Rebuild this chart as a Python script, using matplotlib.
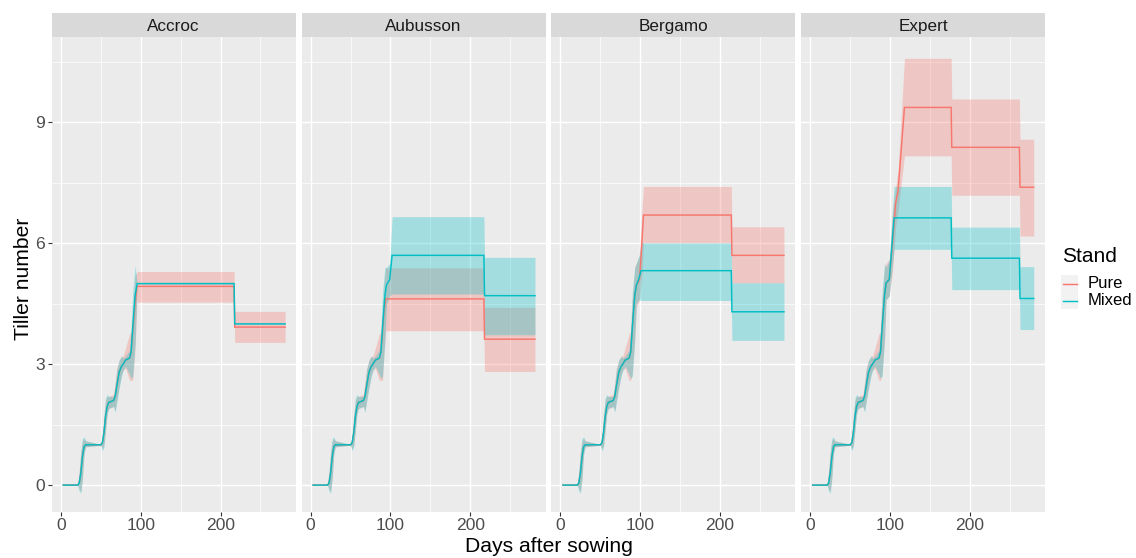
import matplotlib
matplotlib.use("Agg")
import matplotlib.pyplot as plt
from matplotlib.patches import Rectangle
from matplotlib.lines import Line2D
import numpy as np

plt.rcParams['font.family'] = ['Liberation Sans', 'DejaVu Sans']

# ---------------- data ----------------
cultivars = ["Accroc", "Aubusson", "Bergamo", "Expert"]
stands = ["Pure", "Mixed"]
colors = {"Pure": "#F8766D", "Mixed": "#00BFC4"}

# shared early phase (days after sowing)
early_days = [3, 21, 23, 25, 27, 29, 31, 50, 52, 54, 56, 58, 60, 66, 68, 70, 73, 76, 78, 81, 86, 88]
early_tiller = [0, 0, 0.05, 0.3, 0.7, 0.95, 1.0, 1.0, 1.05, 1.3, 1.7, 1.95, 2.05, 2.1, 2.2, 2.45, 2.8, 2.95, 3.0, 3.1, 3.15, 3.3]
early_mixed_low = [0, 0, -0.15, -0.2, 0.15, 0.75, 0.95, 0.99, 0.85, 0.95, 1.35, 1.75, 1.9, 1.95, 1.8, 2.05, 2.4, 2.7, 2.85, 2.95, 2.75, 2.65]
early_mixed_high = [0, 0.02, 0.35, 0.85, 1.15, 1.2, 1.1, 1.01, 1.25, 1.75, 2.15, 2.25, 2.2, 2.2, 2.5, 2.85, 3.1, 3.2, 3.15, 3.2, 3.35, 3.9]
early_pure_low = [0, 0, -0.1, -0.15, 0.2, 0.8, 0.95, 0.99, 0.9, 1.0, 1.4, 1.8, 1.9, 1.95, 1.85, 2.1, 2.45, 2.75, 2.85, 2.9, 2.6, 2.6]
early_pure_high = [0, 0.02, 0.3, 0.8, 1.1, 1.15, 1.1, 1.01, 1.2, 1.7, 2.1, 2.2, 2.2, 2.25, 2.55, 2.9, 3.1, 3.2, 3.2, 3.4, 3.75, 3.8]

# transition (rise) points after the early phase
accroc_pure_rise_days = [90, 93]
accroc_pure_rise_tiller = [3.8, 4.5]
accroc_pure_rise_low = [2.6, 3.4]
accroc_pure_rise_high = [4.3, 5.2]
accroc_mixed_rise_days = [90, 93]
accroc_mixed_rise_tiller = [3.9, 4.7]
accroc_mixed_rise_low = [2.7, 3.5]
accroc_mixed_rise_high = [4.8, 5.45]

aubusson_pure_rise_days = [90, 92]
aubusson_pure_rise_tiller = [3.8, 4.3]
aubusson_pure_rise_low = [2.6, 3.3]
aubusson_pure_rise_high = [4.3, 5.0]
aubusson_mixed_rise_days = [90, 93, 95, 99]
aubusson_mixed_rise_tiller = [3.9, 4.7, 4.97, 5.1]
aubusson_mixed_rise_low = [2.7, 3.6, 4.5, 4.7]
aubusson_mixed_rise_high = [4.8, 5.4, 5.4, 5.5]

bergamo_pure_rise_days = [90, 93, 95, 99, 102]
bergamo_pure_rise_tiller = [3.9, 4.7, 4.95, 5.1, 6.0]
bergamo_pure_rise_low = [2.8, 3.6, 4.4, 4.6, 5.2]
bergamo_pure_rise_high = [4.6, 5.4, 5.5, 5.7, 6.8]
bergamo_mixed_rise_days = [90, 93, 95, 98.5]
bergamo_mixed_rise_tiller = [3.9, 4.7, 4.95, 5.14]
bergamo_mixed_rise_low = [2.7, 3.6, 4.5, 4.6]
bergamo_mixed_rise_high = [4.8, 5.4, 5.5, 5.7]

expert_pure_rise_days = [90, 93, 95, 99, 103, 107, 110]
expert_pure_rise_tiller = [3.9, 4.7, 5.0, 5.1, 6.0, 7.0, 7.3]
expert_pure_rise_low = [2.8, 3.6, 4.6, 4.7, 5.3, 6.4, 6.8]
expert_pure_rise_high = [4.6, 5.4, 5.5, 5.6, 6.8, 7.4, 7.8]
expert_mixed_rise_days = [90, 93, 95, 99]
expert_mixed_rise_tiller = [3.9, 4.7, 5.02, 5.1]
expert_mixed_rise_low = [2.7, 3.6, 4.6, 4.7]
expert_mixed_rise_high = [4.8, 5.5, 5.4, 5.6]

# plateau phases: period breaks (days), level, ribbon low/high
accroc_pure_breaks = [95.5, 217, 281]
accroc_pure_level = [4.93, 3.92]
accroc_pure_low = [4.54, 3.54]
accroc_pure_high = [5.30, 4.31]
accroc_mixed_breaks = [95.5, 217, 281]
accroc_mixed_level = [5.0, 4.0]
accroc_mixed_low = [4.99, 3.99]
accroc_mixed_high = [5.01, 4.01]

aubusson_pure_breaks = [94, 217, 281]
aubusson_pure_level = [4.62, 3.62]
aubusson_pure_low = [3.83, 2.82]
aubusson_pure_high = [5.39, 4.41]
aubusson_mixed_breaks = [102, 217, 281]
aubusson_mixed_level = [5.70, 4.70]
aubusson_mixed_low = [4.74, 3.73]
aubusson_mixed_high = [6.66, 5.65]

bergamo_pure_breaks = [104, 214, 280]
bergamo_pure_level = [6.70, 5.70]
bergamo_pure_low = [6.01, 5.02]
bergamo_pure_high = [7.41, 6.41]
bergamo_mixed_breaks = [101, 214, 280]
bergamo_mixed_level = [5.32, 4.30]
bergamo_mixed_low = [4.58, 3.59]
bergamo_mixed_high = [6.01, 5.02]

expert_pure_breaks = [118, 176.5, 262, 280]
expert_pure_level = [9.37, 8.38, 7.39]
expert_pure_low = [8.17, 7.19, 6.18]
expert_pure_high = [10.59, 9.58, 8.58]
expert_mixed_breaks = [105, 176.5, 262, 280]
expert_mixed_level = [6.63, 5.63, 4.63]
expert_mixed_low = [5.85, 4.85, 3.86]
expert_mixed_high = [7.41, 6.40, 5.42]

x_ticks = [0, 100, 200]
y_ticks = [0, 3, 6, 9]

g = globals()


def build(cult, stand):
    key = f"{cult.lower()}_{stand.lower()}"
    el = early_pure_low if stand == "Pure" else early_mixed_low
    eh = early_pure_high if stand == "Pure" else early_mixed_high
    d = list(early_days) + g[key + "_rise_days"]
    t = list(early_tiller) + g[key + "_rise_tiller"]
    lo = list(el) + g[key + "_rise_low"]
    hi = list(eh) + g[key + "_rise_high"]
    br = g[key + "_breaks"]
    lev = g[key + "_level"]
    plo = g[key + "_low"]
    phi = g[key + "_high"]
    for i in range(len(lev)):
        s = br[i] + (0.8 if i > 0 else 0)
        e = br[i + 1]
        d += [s, e]
        t += [lev[i], lev[i]]
        lo += [plo[i], plo[i]]
        hi += [phi[i], phi[i]]
    return np.array(d), np.array(t), np.array(lo), np.array(hi)


# ---------------- layout ----------------
W, H = 1136, 558
fig = plt.figure(figsize=(W / 100, H / 100), dpi=100)
fig.patch.set_facecolor("white")

panel_top, panel_bot = 37.3, 511.7
panel_w = 244
strip_h = 24
tick_col = "#4D4D4D"

for i, cult in enumerate(cultivars):
    left = 51.7 + 249.8 * i
    ax = fig.add_axes([left / W, (H - panel_bot) / H, panel_w / W, (panel_bot - panel_top) / H])
    ax.set_facecolor("#EBEBEB")
    ax.set_xlim(-11.5, 294.2)
    ax.set_ylim(-0.66, 11.11)
    for sp in ax.spines.values():
        sp.set_visible(False)
    ax.set_xticks(x_ticks)
    ax.set_xticks([50, 150, 250], minor=True)
    ax.set_yticks(y_ticks)
    ax.set_yticks([1.5, 4.5, 7.5, 10.5], minor=True)
    ax.grid(which="major", color="white", linewidth=1.05)
    ax.grid(which="minor", color="white", linewidth=0.5)
    ax.set_axisbelow(True)
    ax.tick_params(which="minor", length=0)
    ax.tick_params(which="major", length=2.75, width=0.8, color="#333333",
                   labelsize=12.6, labelcolor=tick_col, pad=2.0)
    if i > 0:
        ax.tick_params(axis="y", length=0, labelleft=False)

    data = {s: build(cult, s) for s in stands}
    for s in stands:
        d, t, lo, hi = data[s]
        ax.fill_between(d, lo, hi, color=colors[s], alpha=0.3, linewidth=0)
    for s in stands:
        d, t, lo, hi = data[s]
        ax.plot(d, t, color=colors[s], linewidth=1.05, solid_joinstyle="miter")

    sax = fig.add_axes([left / W, (H - panel_top) / H, panel_w / W, strip_h / H])
    sax.set_facecolor("#D9D9D9")
    sax.set_xticks([])
    sax.set_yticks([])
    for sp in sax.spines.values():
        sp.set_visible(False)
    sax.text(0.5, 0.47, cult, ha="center", va="center", fontsize=12.3, color="#1A1A1A",
             transform=sax.transAxes)

# axis titles
fig.text(548.5 / W, 1 - 547 / H, "Days after sowing", ha="center", va="center", fontsize=15.2)
fig.text(23.5 / W, 1 - 279 / H, "Tiller number", ha="center", va="center", fontsize=15.2,
         rotation=90)

# legend
fig.text(1062 / W, 1 - 256 / H, "Stand", ha="left", va="center", fontsize=15)
for j, s in enumerate(stands):
    ytop = 275 + 17 * j
    fig.patches.append(Rectangle((1061 / W, 1 - (ytop + 17) / H), 17 / W, 17 / H,
                                 transform=fig.transFigure, facecolor="#F2F2F2",
                                 edgecolor="none"))
    yc = ytop + 8.5
    fig.lines.append(Line2D([1062.5 / W, 1076.5 / W], [1 - yc / H, 1 - yc / H],
                            transform=fig.transFigure, color=colors[s], linewidth=1.05))
    fig.text(1088 / W, 1 - yc / H, s, ha="left", va="center", fontsize=12)

fig.savefig("out.png", dpi=100)
